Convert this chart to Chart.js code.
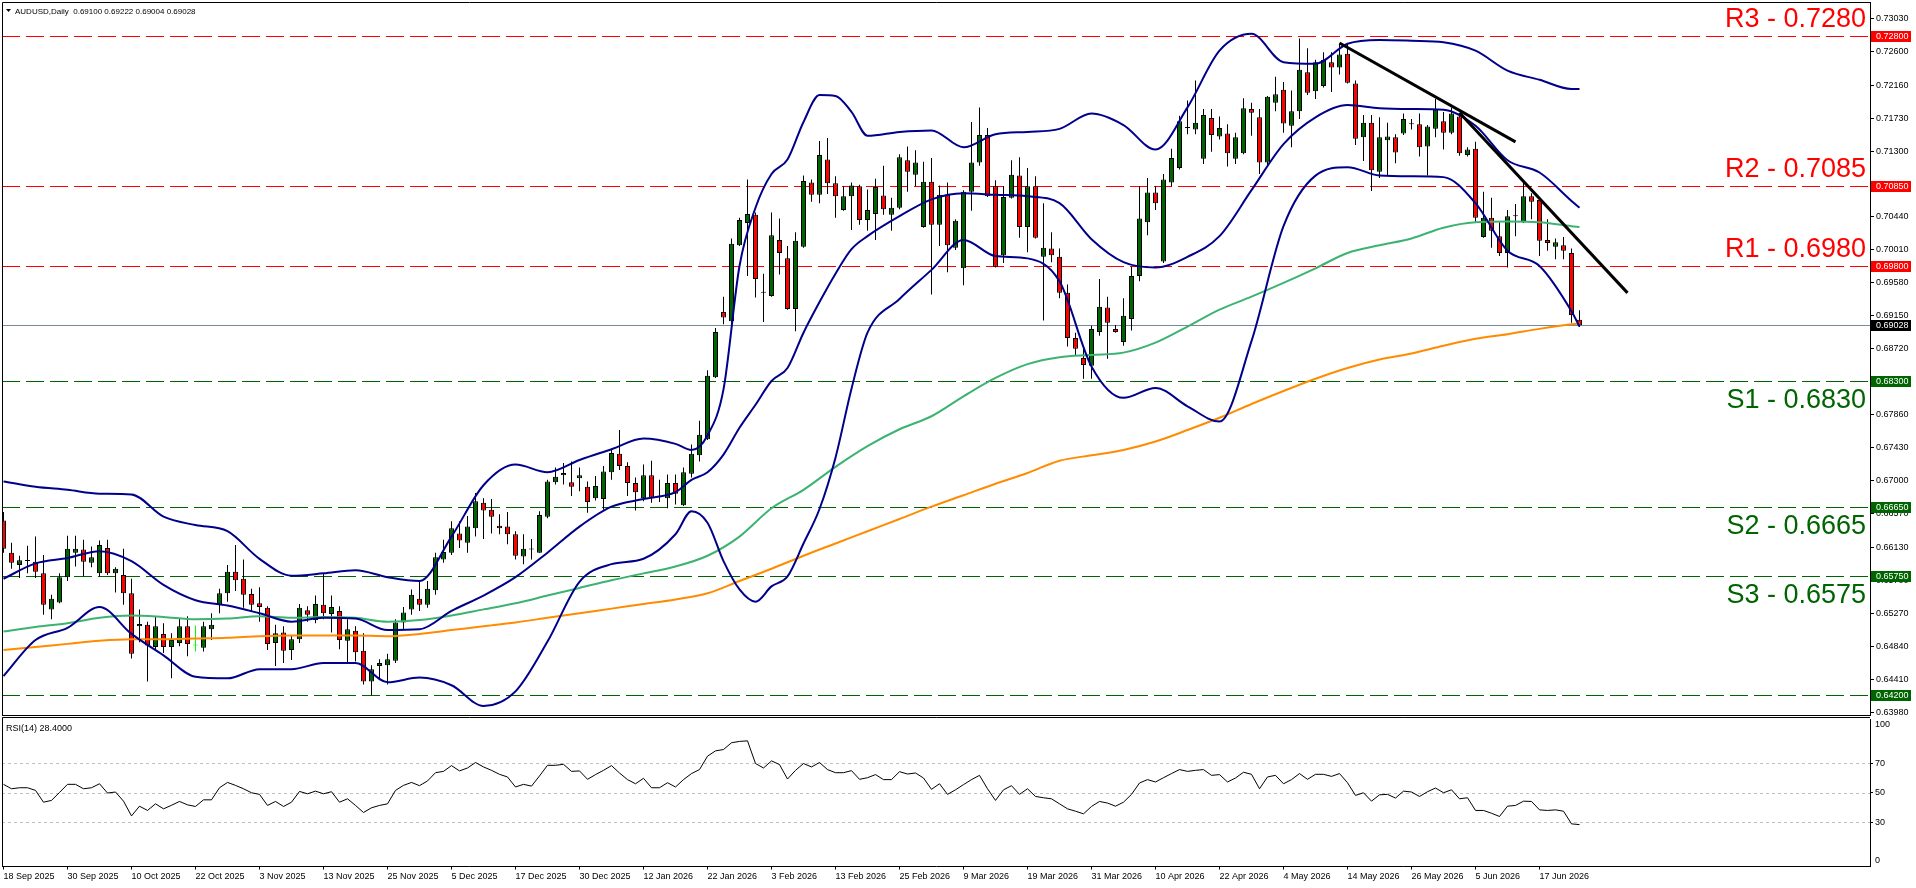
<!DOCTYPE html>
<html lang="en">
<head>
<meta charset="UTF-8">
<title>AUDUSD Daily</title>
<script src="https://cdn.jsdelivr.net/npm/chart.js"></script>
<style>
    body { margin: 0; background: #ffffff; }
    #wrap { position: relative; width: 1916px; height: 888px; overflow: hidden; }
    #price-chart { position: absolute; left: 0; top: 0; }
    #rsi-chart { position: absolute; left: 0; top: 716px; }
</style>
</head>
<body>
<div id="wrap">
    <canvas id="price-chart" width="1916" height="716"></canvas>
    <canvas id="rsi-chart" width="1916" height="172"></canvas>
</div>
<script>
const symbolName = 'AUDUSD,Daily';

// daily bars, 18 Sep 2025 .. 24 Jun 2026
const opens = [
0.6648,0.6606,0.6590,0.6595,0.6594,0.6579,0.6532,0.6541,0.6574,0.6606,
0.6610,0.6593,0.6579,0.6612,0.6579,0.6577,0.6553,0.6510,0.6512,0.6483,
0.6500,0.6483,0.6488,0.6510,0.6485,0.6482,0.6506,0.6538,0.6553,0.6581,
0.6572,0.6552,0.6540,0.6534,0.6488,0.6502,0.6479,0.6493,0.6531,0.6518,
0.6538,0.6526,0.6530,0.6491,0.6504,0.6478,0.6438,0.6458,0.6459,0.6465,
0.6515,0.6532,0.6546,0.6538,0.6557,0.6597,0.6606,0.6631,0.6619,0.6638,
0.6671,0.6662,0.6641,0.6640,0.6630,0.6601,0.6610,0.6606,0.6653,0.6698,
0.6707,0.6698,0.6703,0.6692,0.6677,0.6676,0.6711,0.6735,0.6719,0.6697,
0.6677,0.6707,0.6679,0.6677,0.6697,0.6668,0.6709,0.6733,0.6754,0.6835,
0.6920,0.6908,0.7007,0.7036,0.7047,0.6945,0.6941,0.7014,0.6990,0.6924,
0.7005,0.7089,0.7073,0.7119,0.7088,0.7053,0.7071,0.7084,0.7040,0.7048,
0.7072,0.7047,0.7056,0.7118,0.7099,0.7031,0.7090,0.7034,0.7073,0.7004,
0.6977,0.7077,0.7115,0.7151,0.7084,0.6994,0.7069,0.7098,0.7031,0.7084,
0.6992,0.7003,0.6992,0.6945,0.6886,0.6860,0.6850,0.6894,0.6926,0.6898,
0.6881,0.6911,0.6967,0.7037,0.7076,0.6986,0.7089,0.7108,0.7160,0.7158,
0.7120,0.7173,0.7149,0.7153,0.7120,0.7127,0.7185,0.7174,0.7115,0.7193,
0.7210,0.7163,0.7182,0.7233,0.7208,0.7215,0.7246,0.7239,0.7257,0.7218,
0.7148,0.7167,0.7103,0.7144,0.7148,0.7153,0.7165,0.7165,0.7136,0.7159,
0.7169,0.7154,0.7175,0.7125,0.7133,0.7018,0.7043,0.7019,0.6997,0.7045,
0.7037,0.7071,0.7066,0.7014,0.7005,0.7007,0.6997,0.69100];
const highs = [
0.6659,0.6619,0.6602,0.6615,0.6627,0.6603,0.6551,0.6579,0.6628,0.6628,
0.6623,0.6614,0.6622,0.6623,0.6587,0.6611,0.6572,0.6532,0.6516,0.6523,
0.6514,0.6501,0.6520,0.6523,0.6511,0.6516,0.6527,0.6559,0.6590,0.6616,
0.6597,0.6559,0.6561,0.6536,0.6512,0.6510,0.6498,0.6539,0.6536,0.6550,
0.6579,0.6550,0.6536,0.6519,0.6510,0.6501,0.6459,0.6467,0.6474,0.6519,
0.6535,0.6558,0.6569,0.6569,0.6606,0.6623,0.6647,0.6647,0.6654,0.6684,
0.6677,0.6676,0.6656,0.6659,0.6634,0.6630,0.6624,0.6660,0.6701,0.6717,
0.6723,0.6725,0.6717,0.6699,0.6706,0.6719,0.6741,0.6766,0.6724,0.6704,
0.6721,0.6726,0.6701,0.6708,0.6708,0.6717,0.6747,0.6778,0.6844,0.6899,
0.6940,0.7016,0.7043,0.7093,0.7050,0.6970,0.7050,0.7042,0.7006,0.7024,
0.7098,0.7093,0.7143,0.7147,0.7097,0.7084,0.7089,0.7086,0.7080,0.7094,
0.7111,0.7069,0.7126,0.7136,0.7131,0.7116,0.7121,0.7085,0.7089,0.7041,
0.7079,0.7168,0.7187,0.7160,0.7092,0.7084,0.7118,0.7122,0.7108,0.7097,
0.7062,0.7024,0.7003,0.6956,0.6893,0.6873,0.6902,0.6963,0.6940,0.6903,
0.6938,0.6979,0.7084,0.7095,0.7084,0.7100,0.7133,0.7176,0.7196,0.7222,
0.7185,0.7185,0.7175,0.7165,0.7154,0.7199,0.7193,0.7185,0.7202,0.7227,
0.7220,0.7209,0.7277,0.7264,0.7249,0.7259,0.7259,0.7270,0.7270,0.7222,
0.7177,0.7177,0.7174,0.7167,0.7152,0.7179,0.7172,0.7179,0.7164,0.7198,
0.7181,0.7187,0.7177,0.7135,0.7142,0.7077,0.7069,0.7037,0.7053,0.7061,
0.7089,0.7075,0.7067,0.7041,0.7016,0.7018,0.7003,0.69222];
const lows = [
0.6606,0.6585,0.6573,0.6579,0.6573,0.6525,0.6519,0.6540,0.6569,0.6588,
0.6575,0.6587,0.6575,0.6577,0.6554,0.6538,0.6468,0.6489,0.6438,0.6480,
0.6475,0.6442,0.6484,0.6471,0.6477,0.6477,0.6492,0.6527,0.6542,0.6556,
0.6534,0.6530,0.6516,0.6479,0.6458,0.6462,0.6466,0.6488,0.6516,0.6514,
0.6519,0.6502,0.6480,0.6463,0.6464,0.6434,0.6420,0.6440,0.6434,0.6462,
0.6505,0.6525,0.6530,0.6534,0.6551,0.6593,0.6603,0.6612,0.6606,0.6627,
0.6624,0.6631,0.6630,0.6617,0.6597,0.6591,0.6597,0.6606,0.6651,0.6695,
0.6695,0.6680,0.6686,0.6658,0.6674,0.6662,0.6701,0.6714,0.6680,0.6661,
0.6673,0.6671,0.6672,0.6664,0.6669,0.6667,0.6704,0.6725,0.6753,0.6834,
0.6904,0.6899,0.7006,0.6967,0.6939,0.6907,0.6940,0.6969,0.6923,0.6895,
0.7004,0.7064,0.7062,0.7074,0.7043,0.7052,0.7027,0.7034,0.7026,0.7014,
0.7047,0.7026,0.7054,0.7077,0.7084,0.7030,0.6943,0.7006,0.6972,0.7001,
0.6955,0.7052,0.7111,0.7070,0.6978,0.6984,0.7068,0.7017,0.6998,0.7016,
0.6909,0.6985,0.6938,0.6875,0.6863,0.6833,0.6833,0.6889,0.6859,0.6893,
0.6876,0.6896,0.6960,0.7020,0.7053,0.6984,0.7084,0.7106,0.7152,0.7152,
0.7113,0.7129,0.7145,0.7110,0.7113,0.7126,0.7150,0.7100,0.7111,0.7182,
0.7154,0.7135,0.7172,0.7203,0.7198,0.7213,0.7207,0.7230,0.7218,0.7138,
0.7117,0.7078,0.7095,0.7098,0.7114,0.7151,0.7158,0.7123,0.7098,0.7148,
0.7132,0.7152,0.7124,0.7123,0.7037,0.7017,0.7004,0.6993,0.6978,0.7019,
0.7036,0.7041,0.6993,0.7000,0.6989,0.6989,0.6906,0.69004];
const closes = [
0.6611,0.6593,0.6596,0.6596,0.6581,0.6538,0.6546,0.6574,0.6611,0.6611,
0.6594,0.6600,0.6616,0.6579,0.6585,0.6553,0.6474,0.6513,0.6485,0.6510,
0.6483,0.6492,0.6510,0.6487,0.6485,0.6510,0.6512,0.6553,0.6581,0.6570,
0.6551,0.6538,0.6535,0.6487,0.6501,0.6478,0.6493,0.6534,0.6525,0.6539,
0.6527,0.6535,0.6492,0.6506,0.6476,0.6438,0.6454,0.6462,0.6467,0.6515,
0.6528,0.6551,0.6538,0.6559,0.6600,0.6607,0.6638,0.6622,0.6640,0.6673,
0.6661,0.6653,0.6638,0.6630,0.6602,0.6611,0.6611,0.6655,0.6699,0.6705,
0.6710,0.6692,0.6707,0.6672,0.6693,0.6712,0.6736,0.6719,0.6697,0.6685,
0.6707,0.6678,0.6680,0.6697,0.6683,0.6711,0.6735,0.6760,0.6837,0.6894,
0.6913,0.7009,0.7040,0.7048,0.6963,0.6946,0.7020,0.6997,0.6924,0.7013,
0.7091,0.7073,0.7125,0.7088,0.7071,0.7071,0.7085,0.7040,0.7053,0.7083,
0.7054,0.7056,0.7122,0.7103,0.7115,0.7090,0.7034,0.7073,0.7007,0.7039,
0.7077,0.7115,0.7151,0.7071,0.6979,0.7070,0.7099,0.7031,0.7084,0.7017,
0.7004,0.6994,0.6945,0.6886,0.6872,0.6851,0.6898,0.6927,0.6906,0.6894,
0.6915,0.6967,0.7042,0.7076,0.7062,0.7093,0.7121,0.7169,0.7161,0.7167,
0.7177,0.7151,0.7160,0.7127,0.7148,0.7186,0.7180,0.7115,0.7201,0.7204,
0.7166,0.7182,0.7236,0.7206,0.7246,0.7249,0.7239,0.7256,0.7219,0.7146,
0.7167,0.7105,0.7148,0.7149,0.7128,0.7172,0.7166,0.7135,0.7162,0.7184,
0.7154,0.7179,0.7127,0.7132,0.7043,0.7043,0.7026,0.6997,0.7045,0.7046,
0.7071,0.7064,0.7013,0.7010,0.7011,0.7000,0.6916,0.69028];

// bollinger band (20) at these bars
const bandIdx = [0,4,8,12,16,20,24,28,32,36,40,44,48,52,56,60,64,68,72,76,80,84,
    86,88,90,92,94,96,98,100,102,104,106,
    108,112,116,120,124,128,132,136,140,144,148,152,156,160,164,168,172,176,180,184,188,192,196,197];
const bandUpper = [0.6699,0.6692,0.6688,0.6683,0.6682,0.6653,0.6642,0.6634,0.6598,0.6576,0.6579,0.6583,0.6574,0.6569,0.6627,0.6694,0.6721,0.6711,0.6727,0.6741,0.6755,0.6748,
    0.6740,0.6759,0.6819,0.6980,0.7056,0.7100,0.7119,0.7168,0.7203,0.7202,0.7181,
    0.7150,0.7155,0.7157,0.7135,0.7152,0.7155,0.7159,0.7179,0.7164,0.7132,0.7187,0.7261,0.7283,0.7246,0.7244,0.7270,0.7275,0.7274,0.7272,0.7261,0.7235,0.7223,0.7211,0.7211];
const bandMiddle = [0.6572,0.6592,0.6599,0.6608,0.6595,0.6564,0.6544,0.6537,0.6527,0.6516,0.6521,0.6520,0.6505,0.6506,0.6530,0.6550,0.6574,0.6606,0.6640,0.6666,0.6676,0.6685,
    0.6701,0.6711,0.6734,0.6769,0.6799,0.6830,0.6847,0.6893,0.6933,0.6970,0.7002,
    0.7019,0.7045,0.7067,0.7075,0.7073,0.7071,0.7062,0.7015,0.6985,0.6978,0.6992,0.7019,0.7079,0.7139,0.7174,0.7190,0.7186,0.7185,0.7184,0.7163,0.7118,0.7102,0.7065,0.7056];
const bandLower = [0.6445,0.6492,0.6508,0.6535,0.6500,0.6472,0.6444,0.6442,0.6454,0.6454,0.6462,0.6462,0.6437,0.6443,0.6433,0.6406,0.6425,0.6490,0.6568,0.6591,0.6598,0.6630,
    0.6660,0.6645,0.6595,0.6558,0.6542,0.6562,0.6575,0.6618,0.6663,0.6730,0.6820,
    0.6893,0.6937,0.6975,0.7014,0.6993,0.6990,0.6960,0.6849,0.6808,0.6821,0.6797,0.6777,0.6882,0.7032,0.7098,0.7109,0.7098,0.7097,0.7096,0.7062,0.7000,0.6980,0.6921,0.6901];

// moving averages every 4 bars
const maIdx = [0,4,8,12,16,20,24,28,32,36,40,44,48,52,56,60,64,68,72,76,80,84,88,92,96,
    100,104,108,112,116,120,124,128,132,136,140,144,148,152,156,160,164,168,172,176,180,184,188,192,196,197];
const maGreen = [0.6503,0.6509,0.6514,0.6521,0.6524,0.6522,0.6519,0.6520,0.6523,0.6521,0.6522,0.6521,0.6516,0.6518,0.6524,0.6532,0.6540,0.6550,0.6560,0.6570,0.6579,0.6588,0.6602,0.6627,0.6664,
    0.6688,0.6718,0.6745,0.6767,0.6784,0.6810,0.6834,0.6852,0.6861,0.6864,0.6867,0.6880,0.6901,0.6923,0.6940,0.6958,0.6977,0.6997,0.7007,0.7016,0.7030,0.7037,0.7038,0.7037,0.7032,0.7031];
const maOrange = [0.6479,0.6483,0.6487,0.6491,0.6493,0.6493,0.6494,0.6495,0.6497,0.6498,0.6498,0.6498,0.6497,0.6500,0.6505,0.6510,0.6515,0.6521,0.6527,0.6533,0.6539,0.6545,0.6553,0.6569,0.6585,
    0.6602,0.6618,0.6634,0.6650,0.6666,0.6681,0.6696,0.6710,0.6726,0.6733,0.6740,0.6751,0.6766,0.6782,0.6800,0.6817,0.6833,0.6847,0.6858,0.6866,0.6876,0.6885,0.6891,0.6898,0.6904,0.6905];

const rsiValues = [
55.7,52.7,53.4,53.4,51.6,43.6,44.8,50.2,55.7,55.7,
52.7,53.4,56.1,49.8,50.5,44.3,34.3,40.9,38.0,42.5,
39.1,41.5,44.1,41.8,40.7,45.2,45.2,53.4,57.0,55.0,
52.7,50.0,48.9,41.4,44.1,40.7,43.6,50.9,49.3,51.1,
49.3,50.7,43.6,45.9,41.4,36.6,39.8,41.4,42.5,51.6,
55.0,57.0,54.8,58.0,63.6,64.5,68.4,64.8,66.8,70.5,
67.5,65.2,62.5,60.7,53.9,55.7,54.5,61.4,68.6,68.6,
69.3,64.5,64.8,59.1,62.3,65.2,68.4,63.4,58.9,56.1,
59.8,53.4,53.4,56.8,53.9,58.9,63.0,65.7,74.8,78.4,
79.3,83.9,84.8,85.2,69.8,66.8,71.6,69.1,59.3,65.2,
69.8,67.5,70.5,65.7,63.6,63.6,65.0,59.1,60.2,62.3,
58.9,58.9,64.3,62.7,63.4,60.0,52.3,56.1,48.9,52.0,
55.5,58.9,61.8,52.7,44.8,52.0,54.8,48.9,52.7,47.5,
46.6,45.9,42.5,39.1,37.5,35.7,40.7,44.1,43.0,40.9,
43.6,48.9,56.6,58.9,57.3,60.2,63.0,65.7,64.5,65.2,
65.7,61.8,62.3,57.3,60.0,63.9,62.5,52.7,60.7,61.8,
56.1,58.9,63.0,59.1,62.5,62.5,61.1,63.0,56.8,48.2,
50.0,44.3,48.6,48.9,46.4,51.1,50.5,47.5,50.7,53.2,
50.0,52.0,45.9,46.6,38.0,38.0,36.1,33.9,40.9,41.4,
44.3,44.1,38.4,38.0,38.4,37.5,28.9,28.4];

// hand drawn objects
const resistNames = ['R3', 'R2', 'R1'];
const resistLevels = [0.7280, 0.7085, 0.6980];
const supportNames = ['S1', 'S2', 'S3'];
const supportLevels = [0.6830, 0.6665, 0.6575];
const extraSupport = [0.6420];
const trend1X = [167, 189];
const trend1Y = [0.7271, 0.7142];
const trend2X = [182, 203];
const trend2Y = [0.7180, 0.6945];

// axes
const priceTicks = [0.73030,0.72600,0.72160,0.71730,0.71300,0.70870,0.70440,0.70010,0.69580,0.69150,0.68720,
    0.68290,0.67860,0.67430,0.67000,0.66570,0.66130,0.65700,0.65270,0.64840,0.64410,0.63980];
const dateLabels = ['18 Sep 2025','30 Sep 2025','10 Oct 2025','22 Oct 2025','3 Nov 2025','13 Nov 2025',
    '25 Nov 2025','5 Dec 2025','17 Dec 2025','30 Dec 2025','12 Jan 2026','22 Jan 2026','3 Feb 2026',
    '13 Feb 2026','25 Feb 2026','9 Mar 2026','19 Mar 2026','31 Mar 2026','10 Apr 2026','22 Apr 2026',
    '4 May 2026','14 May 2026','26 May 2026','5 Jun 2026','17 Jun 2026'];
const LABEL_STEP = 8;
const rsiTicks = [100, 70, 50, 30, 0];
const rsiLevels = [70, 50, 30];

const X_MIN = -0.1875, X_MAX = 233.3125;   // 8 px per bar, empty shift on the right
const PRICE_MIN = 0.63942, PRICE_MAX = 0.73245;

const FONT = '"Liberation Sans", Arial, sans-serif';
const BULL = '#006400', BEAR = '#ff0000', DOJI = '#00ff00';
const RES_COLOR = '#ff0000', SUP_COLOR = '#006400';
const BAND_COLOR = '#00008b';
const PRICE_LINE = '#778899';

const lastIdx = closes.length - 1;

function hline(ctx, a, y) {
    const yy = Math.round(y) + 0.5;
    ctx.beginPath();
    ctx.moveTo(a.left, yy);
    ctx.lineTo(a.right, yy);
    ctx.stroke();
}

function tag(ctx, a, y, text, color) {
    const yy = Math.round(y);
    ctx.fillStyle = color;
    ctx.fillRect(a.right + 1, yy - 5, 40, 11);
    ctx.fillStyle = '#ffffff';
    ctx.textAlign = 'left';
    ctx.textBaseline = 'middle';
    ctx.fillText(text, a.right + 6, yy + 0.5);
}

const priceDecor = {
    id: 'priceDecor',
    beforeDatasetsDraw(chart) {
        const { ctx, chartArea: a, scales: { y } } = chart;
        ctx.save();
        ctx.lineWidth = 1;
        ctx.strokeStyle = PRICE_LINE;
        hline(ctx, a, y.getPixelForValue(closes[lastIdx]));
        ctx.setLineDash([18, 6]);
        ctx.strokeStyle = RES_COLOR;
        resistLevels.forEach(v => hline(ctx, a, y.getPixelForValue(v)));
        ctx.strokeStyle = SUP_COLOR;
        supportLevels.concat(extraSupport).forEach(v => hline(ctx, a, y.getPixelForValue(v)));
        ctx.restore();
    },
    afterDraw(chart) {
        const { ctx, chartArea: a, scales: { y } } = chart;
        ctx.save();
        // frame
        ctx.strokeStyle = '#000000';
        ctx.lineWidth = 1;
        ctx.beginPath();
        ctx.moveTo(a.left + 0.5, a.bottom + 0.5);
        ctx.lineTo(a.left + 0.5, a.top + 0.5);
        ctx.lineTo(a.right, a.top + 0.5);
        ctx.moveTo(a.left, a.bottom + 0.5);
        ctx.lineTo(a.right, a.bottom + 0.5);
        ctx.stroke();

        // level captions
        ctx.font = '27px ' + FONT;
        ctx.textAlign = 'right';
        ctx.textBaseline = 'alphabetic';
        ctx.fillStyle = RES_COLOR;
        resistLevels.forEach((v, k) => {
            ctx.fillText(resistNames[k] + ' - ' + v.toFixed(4), a.right - 4, y.getPixelForValue(v) - 9);
        });
        ctx.fillStyle = SUP_COLOR;
        supportLevels.forEach((v, k) => {
            ctx.fillText(supportNames[k] + ' - ' + v.toFixed(4), a.right - 4, y.getPixelForValue(v) + 27);
        });

        // price tags on the axis
        ctx.font = '9px ' + FONT;
        resistLevels.forEach(v => tag(ctx, a, y.getPixelForValue(v), v.toFixed(5), RES_COLOR));
        supportLevels.concat(extraSupport).forEach(v => tag(ctx, a, y.getPixelForValue(v), v.toFixed(5), SUP_COLOR));
        tag(ctx, a, y.getPixelForValue(closes[lastIdx]), closes[lastIdx].toFixed(5), '#000000');

        // title
        ctx.fillStyle = '#000000';
        ctx.beginPath();
        ctx.moveTo(6, 9);
        ctx.lineTo(11, 9);
        ctx.lineTo(8.5, 12);
        ctx.closePath();
        ctx.fill();
        ctx.font = '8px ' + FONT;
        ctx.textAlign = 'left';
        ctx.textBaseline = 'alphabetic';
        const ohlc = [opens[lastIdx], highs[lastIdx], lows[lastIdx], closes[lastIdx]].map(v => v.toFixed(5)).join(' ');
        ctx.fillText(symbolName + '  ' + ohlc, 15, 14);
        ctx.restore();
    }
};

const bandSet = (label, xs, ys, color) => ({
    type: 'line', label,
    data: xs.map((x, k) => ({ x: x, y: ys[k] })),
    borderColor: color, borderWidth: 2, pointRadius: 0, fill: false,
    cubicInterpolationMode: 'monotone', order: 1
});
const trendSet = (xs, ys) => ({
    type: 'line',
    data: xs.map((x, k) => ({ x: x, y: ys[k] })),
    borderColor: '#000000', borderWidth: 3, pointRadius: 0, fill: false, tension: 0, order: 0
});

const bodyColors = closes.map((c, i) => c > opens[i] ? BULL : (c < opens[i] ? BEAR : DOJI));
const wickColors = closes.map((c, i) => c === opens[i] ? DOJI : '#000000');

new Chart(document.getElementById('price-chart'), {
    type: 'bar',
    data: {
        datasets: [
            {
                label: 'wicks',
                data: closes.map((_, i) => ({ x: i, y: [lows[i], highs[i]] })),
                backgroundColor: wickColors,
                barThickness: 1, grouped: false, inflateAmount: 0, borderWidth: 0, order: 3
            },
            {
                label: 'bodies',
                data: closes.map((c, i) => ({ x: i, y: [opens[i], c] })),
                backgroundColor: bodyColors,
                borderColor: closes.map((c, i) => c === opens[i] ? DOJI : '#000000'),
                borderWidth: 1, borderSkipped: false, barThickness: 5, minBarLength: 1,
                grouped: false, inflateAmount: 0, order: 2
            },
            bandSet('bb upper', bandIdx, bandUpper, BAND_COLOR),
            bandSet('bb middle', bandIdx, bandMiddle, BAND_COLOR),
            bandSet('bb lower', bandIdx, bandLower, BAND_COLOR),
            bandSet('ma green', maIdx, maGreen, '#3cb371'),
            bandSet('ma orange', maIdx, maOrange, '#ff8c00'),
            trendSet(trend1X, trend1Y),
            trendSet(trend2X, trend2Y)
        ]
    },
    options: {
        responsive: false,
        animation: false,
        devicePixelRatio: 1,
        events: [],
        layout: { padding: { left: 2, top: 2, right: 0, bottom: 1 } },
        plugins: { legend: { display: false }, tooltip: { enabled: false } },
        scales: {
            x: { type: 'linear', display: false, min: X_MIN, max: X_MAX, offset: false },
            y: {
                position: 'right',
                min: PRICE_MIN,
                max: PRICE_MAX,
                afterBuildTicks: s => { s.ticks = priceTicks.map(v => ({ value: v })); },
                afterFit: s => { s.width = 46; s.paddingTop = 0; s.paddingBottom = 0; },
                ticks: {
                    autoSkip: false,
                    padding: 2,
                    color: '#000000',
                    font: { family: FONT, size: 9 },
                    callback: v => v.toFixed(5)
                },
                grid: { drawOnChartArea: false, drawTicks: true, tickLength: 4, color: '#000000' },
                border: { display: true, color: '#000000' }
            }
        }
    },
    plugins: [priceDecor]
});

const rsiDecor = {
    id: 'rsiDecor',
    beforeDatasetsDraw(chart) {
        const { ctx, chartArea: a, scales: { y } } = chart;
        ctx.save();
        ctx.strokeStyle = '#c0c0c0';
        ctx.lineWidth = 1;
        ctx.setLineDash([3, 3]);
        rsiLevels.forEach(v => hline(ctx, a, y.getPixelForValue(v)));
        ctx.restore();
    },
    afterDraw(chart) {
        const { ctx, chartArea: a, scales: { y } } = chart;
        ctx.save();
        ctx.strokeStyle = '#000000';
        ctx.lineWidth = 1;
        ctx.beginPath();
        ctx.moveTo(a.left + 0.5, a.bottom);
        ctx.lineTo(a.left + 0.5, a.top - 1.5);
        ctx.lineTo(a.right, a.top - 1.5);
        ctx.stroke();

        ctx.fillStyle = '#000000';
        ctx.font = '9px ' + FONT;
        ctx.textAlign = 'left';
        ctx.textBaseline = 'middle';
        rsiTicks.forEach(v => {
            let py = y.getPixelForValue(v);
            if (v === 100) py += 6;
            if (v === 0) py -= 6;
            ctx.fillText(String(v), a.right + 5, py);
        });

        ctx.textBaseline = 'alphabetic';
        ctx.fillText('RSI(14) ' + rsiValues[rsiValues.length - 1].toFixed(4), 6, a.top + 12);
        ctx.restore();
    }
};

new Chart(document.getElementById('rsi-chart'), {
    type: 'line',
    data: {
        datasets: [{
            label: 'RSI(14)',
            data: rsiValues.map((v, i) => ({ x: i, y: v })),
            borderColor: '#000000', borderWidth: 1, pointRadius: 0, fill: false, tension: 0
        }]
    },
    options: {
        responsive: false,
        animation: false,
        devicePixelRatio: 1,
        events: [],
        layout: { padding: { left: 2, top: 3, right: 0, bottom: 0 } },
        plugins: { legend: { display: false }, tooltip: { enabled: false } },
        scales: {
            x: {
                type: 'linear', min: X_MIN, max: X_MAX, offset: false,
                afterBuildTicks: s => { s.ticks = dateLabels.map((_, k) => ({ value: k * LABEL_STEP })); },
                afterFit: s => { s.height = 21.5; s.paddingLeft = 0; s.paddingRight = 0; },
                ticks: {
                    autoSkip: false, maxRotation: 0, minRotation: 0, align: 'start', padding: 2,
                    color: '#000000', font: { family: FONT, size: 9 },
                    callback: v => dateLabels[Math.round(v / LABEL_STEP)]
                },
                grid: { drawOnChartArea: false, drawTicks: true, tickLength: 3, color: '#000000' },
                border: { display: true, color: '#000000' }
            },
            y: {
                position: 'right', min: 0, max: 100,
                afterBuildTicks: s => { s.ticks = rsiLevels.map(v => ({ value: v })); },
                afterFit: s => { s.width = 46; s.paddingTop = 0; s.paddingBottom = 0; },
                ticks: { display: false },
                grid: { drawOnChartArea: false, drawTicks: true, tickLength: 3, color: '#000000' },
                border: { display: true, color: '#000000' }
            }
        }
    },
    plugins: [rsiDecor]
});
</script>
</body>
</html>
